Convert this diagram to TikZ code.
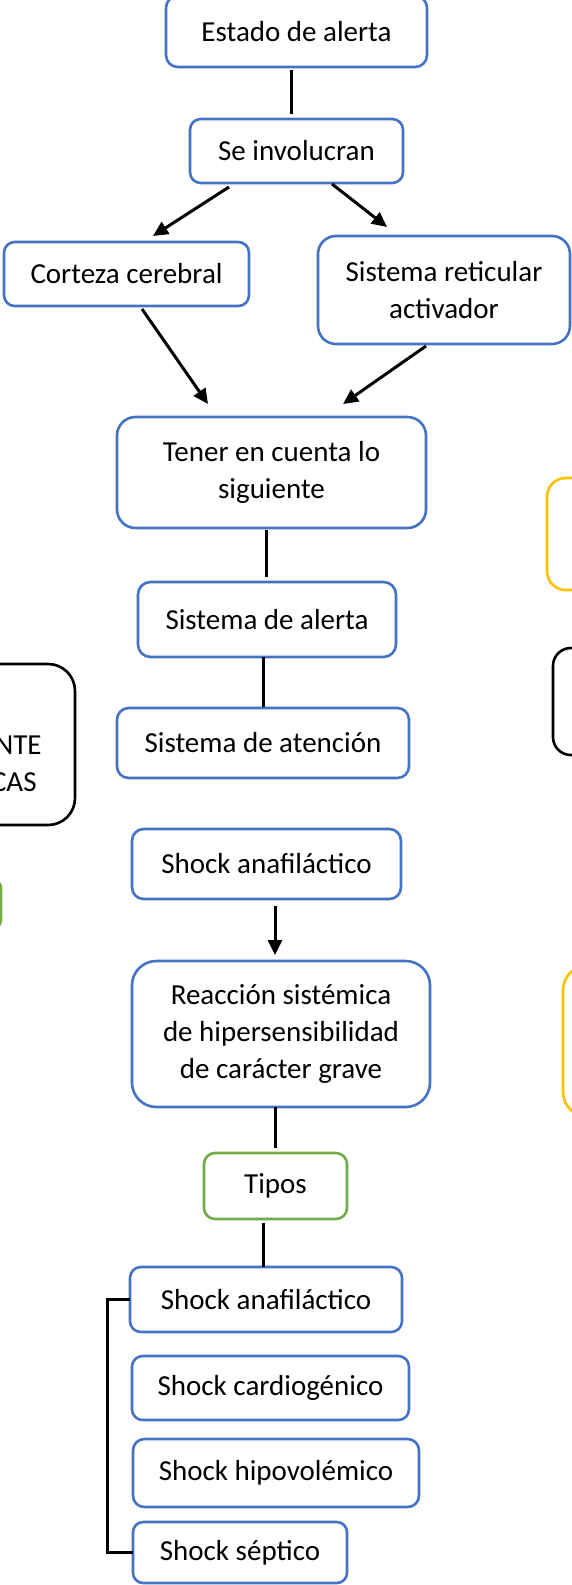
\documentclass[tikz,border=0pt]{standalone}
\usepackage{fontspec}
\setmainfont{Carlito}
\usetikzlibrary{arrows.meta}
\definecolor{wblue}{HTML}{4472C4}
\definecolor{wgreen}{HTML}{70AD47}
\definecolor{wyellow}{HTML}{FFC000}
\tikzset{
  boxst/.style={line width=1.3pt, fill=white, inner sep=0pt, outer sep=0pt, align=center,
    font=\fontsize{14.5}{18.5}\selectfont},
  conn/.style={line width=1.5pt, black},
  arr/.style={conn, -{Triangle[length=7.5pt,width=7pt]}},
  parttext/.style={inner sep=0pt, font=\fontsize{14.5}{18.5}\selectfont}
}
\newcommand\mybox[7]{%
  \pgfmathsetmacro\bw{0.5*(#3-#2)}%
  \pgfmathsetmacro\bh{0.5*(#5-#4)}%
  \pgfmathsetmacro\br{0.1667*min(\bw,\bh)}%
  \node[boxst, draw=#6, minimum width=\bw pt, minimum height=\bh pt, rounded corners=\br pt]
    (#1) at ({(#2+#3)/2},{(#4+#5)/2}) {#7};}
\begin{document}
\begin{tikzpicture}[x=0.5pt,y=-0.5pt]
\useasboundingbox (0,0) rectangle (572,1585);
\clip (0,0) rectangle (572,1585);
% main column
\mybox{estado}{166}{427}{-4}{67}{wblue}{Estado de alerta}
\mybox{invol}{190}{403}{119}{183}{wblue}{Se involucran}
\mybox{corteza}{4}{249}{242}{306}{wblue}{Corteza cerebral}
\mybox{reticular}{318}{570}{236}{344}{wblue}{Sistema reticular\\activador}
\mybox{tener}{117}{426}{417}{528}{wblue}{Tener en cuenta lo\\siguiente}
\mybox{alerta}{138}{396}{582}{657}{wblue}{Sistema de alerta}
\mybox{atencion}{117}{409}{708}{778}{wblue}{Sistema de atención}
\mybox{shockA}{132}{401}{829}{899}{wblue}{Shock anafiláctico}
\mybox{reaccion}{132}{430}{961}{1107}{wblue}{Reacción sistémica\\de hipersensibilidad\\de carácter grave}
\mybox{tipos}{204}{347}{1153}{1219}{wgreen}{Tipos}
\mybox{shockB}{130}{402}{1267}{1332}{wblue}{Shock anafiláctico}
\mybox{cardio}{132}{409}{1356}{1420}{wblue}{Shock cardiogénico}
\mybox{hipo}{133}{419}{1439}{1507}{wblue}{Shock hipovolémico}
\mybox{septico}{133}{347}{1522}{1583}{wblue}{Shock séptico}
% partial boxes at the edges
\mybox{leftblack}{-200}{75}{664}{825}{black}{}
\node[parttext, anchor=base east] (lbt1) at (42,754) {NTE};
\node[parttext, anchor=base east] (lbt2) at (37,791) {CAS};
\mybox{leftgreen}{-150}{1}{880}{928}{wgreen}{}
\mybox{rightyellowA}{547}{800}{478}{590}{wyellow}{}
\mybox{rightblack}{553}{800}{648}{755}{black}{}
\mybox{rightyellowB}{563}{800}{965}{1117}{wyellow}{}
% connectors
\draw[conn] ([shift={(-5.5,3)}]estado.south) -- ([shift={(-5.5,-5)}]invol.north);
\draw[arr] ([shift={(-67.5,4)}]invol.south) -- ([shift={(26.5,-6)}]corteza.north);
\draw[arr] ([shift={(35.5,1)}]invol.south) -- ([shift={(-57,-9)}]reticular.north);
\draw[arr] ([shift={(15.5,3)}]corteza.south) -- ([shift={(-63.5,-13)}]tener.north);
\draw[arr] ([shift={(-18,2)}]reticular.south) -- ([shift={(71.5,-13)}]tener.north);
\draw[conn] ([shift={(-5.5,2)}]tener.south) -- ([shift={(-1,-5)}]alerta.north);
\draw[conn] ([shift={(-4,0)}]alerta.south) -- ([shift={(0,-1)}]atencion.north);
\draw[arr] ([shift={(8.5,7)}]shockA.south) -- ([shift={(-6,-6)}]reaccion.north);
\draw[conn] ([shift={(-6,0)}]reaccion.south) -- ([shift={(-0.5,-5)}]tipos.north);
\draw[conn] ([shift={(-12.5,4)}]tipos.south) -- ([shift={(-3,0)}]shockB.north);
\draw[conn] (shockB.west) -- ++(-23,0) |- (septico.west);
\end{tikzpicture}
\end{document}
